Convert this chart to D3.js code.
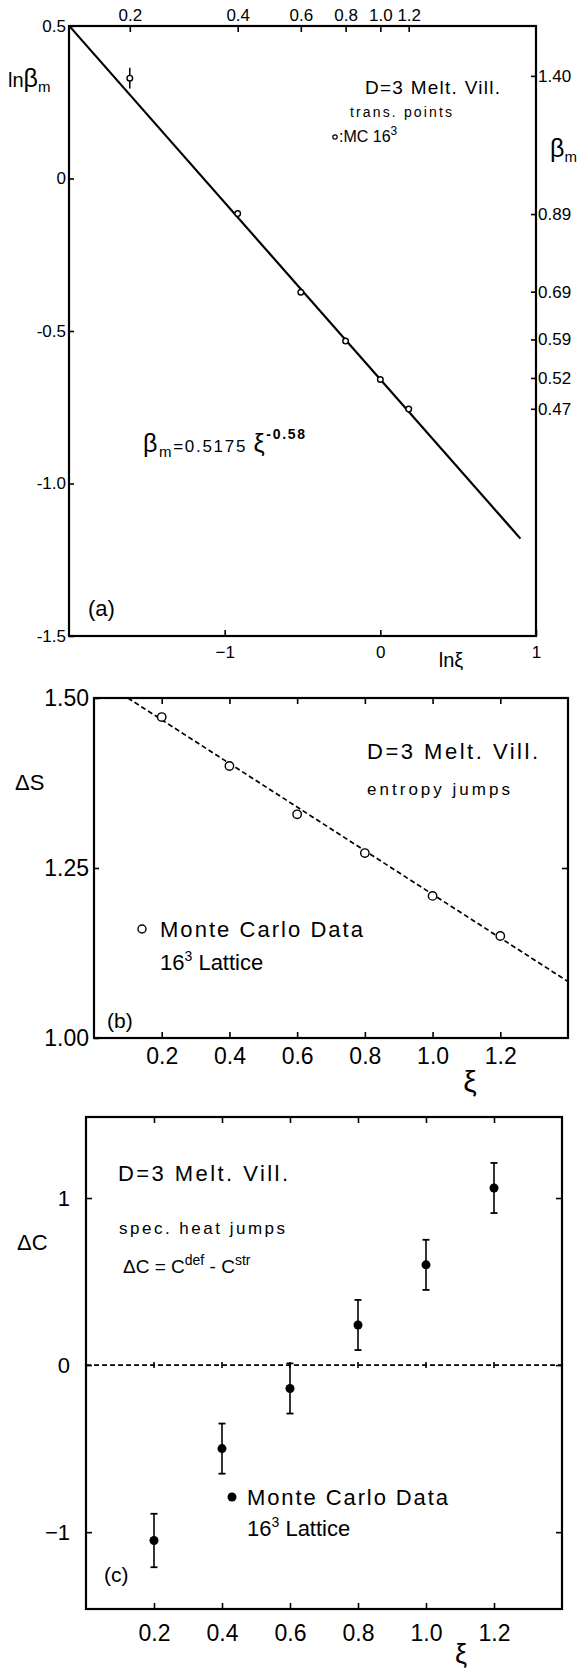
<!DOCTYPE html>
<html><head><meta charset="utf-8">
<script src="https://cdn.jsdelivr.net/npm/d3@7"></script>
<style>
body{margin:0;background:#fff;}
svg{display:block;}
</style></head><body>
<script>
// ---- (a) transition points: ln(beta_m) against ln(xi) ----
const xiValues = [0.2, 0.4, 0.6, 0.8, 1.0, 1.2];
const lnBetaM = [0.329, -0.115, -0.373, -0.533, -0.659, -0.756];
const lnBetaErr = [0.034, 0.012, 0, 0, 0, 0];
const fitCoef = 0.5175, fitExp = -0.58;          // beta_m = 0.5175 xi^-0.58
const fitLnXiRange = [-2, 0.9];
const lnBetaTicks = [0.5, 0, -0.5, -1.0, -1.5];
const lnBetaTickLabels = ["0.5", "0", "-0.5", "-1.0", "-1.5"];
const lnXiTicks = [-1, 0, 1];
const betaTicks = [1.40, 0.89, 0.69, 0.59, 0.52, 0.47];
const betaTickLabels = ["1.40", "0.89", "0.69", "0.59", "0.52", "0.47"];
const xiTickLabels = ["0.2", "0.4", "0.6", "0.8", "1.0", "1.2"];

// ---- (b) entropy jumps ----
const entropyJump = [1.472, 1.400, 1.329, 1.272, 1.209, 1.150];
const entropyFitXi = [0.1, 1.4];
const entropyFitDS = [1.5, 1.083];
const dsTicks = [1.00, 1.25, 1.50];

// ---- (c) specific heat jumps ----
const heatJump = [-1.05, -0.50, -0.14, 0.24, 0.60, 1.06];
const heatErr = [0.16, 0.15, 0.15, 0.15, 0.15, 0.15];
const dcTicks = [-1, 0, 1];

const FONT = '"Liberation Sans", Arial, Helvetica, sans-serif';
const W = 579, H = 1672;

const svg = d3.select("body").append("svg")
  .attr("width", W).attr("height", H)
  .attr("font-family", FONT);

function styleAxis(g, ax, size) {
  g.call(ax);
  g.select(".domain").remove();
  g.attr("font-family", FONT).attr("font-size", size);
  g.selectAll(".tick line").attr("stroke", "#000").attr("stroke-width", 1.6);
  g.selectAll(".tick text").attr("fill", "#000");
  return g;
}

// text made of runs; each run: t, s (size), sh (shift up from baseline), w (weight)
function rich(g, x, y, parts, opts = {}) {
  const t = g.append("text").attr("x", x).attr("y", y).attr("fill", "#000")
    .attr("text-anchor", opts.anchor || "start");
  if (opts.len) t.attr("textLength", opts.len).attr("lengthAdjust", "spacing");
  let prev = 0;
  parts.forEach(p => {
    const sh = p.sh || 0;
    const ts = t.append("tspan").text(p.t).attr("font-size", p.s);
    if (sh !== prev) ts.attr("dy", prev - sh);
    if (p.w) ts.attr("font-weight", p.w);
    prev = sh;
  });
  return t;
}

function frame(g, x, y) {
  g.append("rect")
    .attr("x", x.range()[0]).attr("y", Math.min(...y.range()))
    .attr("width", x.range()[1] - x.range()[0])
    .attr("height", Math.abs(y.range()[1] - y.range()[0]))
    .attr("fill", "none").attr("stroke", "#000").attr("stroke-width", 2.2);
}

// ================= panel (a) =================
{
  const g = svg.append("g");
  const x = d3.scaleLinear().domain([-2, 1]).range([69, 536]);
  const y = d3.scaleLinear().domain([0.5, -1.5]).range([26, 636]);

  styleAxis(g.append("g").attr("transform", `translate(${x.range()[0]},0)`),
    d3.axisLeft(y).tickValues(lnBetaTicks)
      .tickFormat((d, i) => lnBetaTickLabels[i]).tickSize(-5).tickPadding(3), 17);
  styleAxis(g.append("g").attr("transform", `translate(${x.range()[1]},0)`),
    d3.axisRight(y).tickValues(betaTicks.map(Math.log))
      .tickFormat((d, i) => betaTickLabels[i]).tickSize(-5).tickPadding(2), 17);
  styleAxis(g.append("g").attr("transform", `translate(0,${y.range()[0]})`),
    d3.axisTop(x).tickValues(xiValues.map(Math.log))
      .tickFormat((d, i) => xiTickLabels[i]).tickSize(-6).tickPadding(5), 17);
  styleAxis(g.append("g").attr("transform", `translate(0,${y.range()[1]})`),
    d3.axisBottom(x).tickValues(lnXiTicks).tickFormat(d3.format("d"))
      .tickSize(-6).tickPadding(10), 17);

  frame(g, x, y);

  // fitted power law
  const fitPts = fitLnXiRange.map(lx => [lx, Math.log(fitCoef) + fitExp * lx]);
  g.append("path").attr("d", d3.line().x(d => x(d[0])).y(d => y(d[1]))(fitPts))
    .attr("fill", "none").attr("stroke", "#000").attr("stroke-width", 2.2);

  const pts = xiValues.map((v, i) => ({ lx: Math.log(v), ly: lnBetaM[i], e: lnBetaErr[i] }));
  g.selectAll("line.err").data(pts.filter(d => d.e > 0)).join("line")
    .attr("x1", d => x(d.lx)).attr("x2", d => x(d.lx))
    .attr("y1", d => y(d.ly + d.e)).attr("y2", d => y(d.ly - d.e))
    .attr("stroke", "#000").attr("stroke-width", 1.5);
  g.selectAll("circle.pt").data(pts).join("circle")
    .attr("cx", d => x(d.lx)).attr("cy", d => y(d.ly)).attr("r", 2.8)
    .attr("fill", "#fff").attr("stroke", "#000").attr("stroke-width", 1.4);

  rich(g, 8, 87, [{ t: "ln", s: 20 }, { t: "β", s: 25 }, { t: "m", s: 15, sh: -5 }]);
  rich(g, 550, 157, [{ t: "β", s: 25 }, { t: "m", s: 15, sh: -5 }]);
  rich(g, 365, 94, [{ t: "D=3 Melt. Vill.", s: 19 }], { len: 135 });
  rich(g, 350, 117, [{ t: "trans. points", s: 14 }], { len: 102 });
  g.append("circle").attr("cx", 335).attr("cy", 137).attr("r", 2.2)
    .attr("fill", "#fff").attr("stroke", "#000").attr("stroke-width", 1.2);
  rich(g, 339, 142, [{ t: ":MC 16", s: 16 }, { t: "3", s: 12, sh: 7 }]);
  rich(g, 143, 452, [
    { t: "β", s: 25 }, { t: "m", s: 15, sh: -5 }, { t: "=0.5175 ", s: 17 },
    { t: "ξ", s: 25 }, { t: "-0.58", s: 14, sh: 13, w: "bold" }
  ], { len: 162 });
  rich(g, 88, 616, [{ t: "(a)", s: 22 }]);
  rich(g, 451, 667, [{ t: "lnξ", s: 20 }], { anchor: "middle" });
}

// ================= panel (b) =================
{
  const g = svg.append("g");
  const x = d3.scaleLinear().domain([0, 1.4]).range([94, 568]);
  const y = d3.scaleLinear().domain([1.0, 1.5]).range([1038, 698]);

  styleAxis(g.append("g").attr("transform", `translate(${x.range()[0]},0)`),
    d3.axisLeft(y).tickValues(dsTicks).tickFormat(d3.format(".2f"))
      .tickSize(-5).tickPadding(5), 23);
  styleAxis(g.append("g").attr("transform", `translate(${x.range()[1]},0)`),
    d3.axisRight(y).tickValues([1.25]).tickFormat("").tickSize(-6), 12);
  styleAxis(g.append("g").attr("transform", `translate(0,${y.range()[1]})`),
    d3.axisTop(x).tickValues(xiValues).tickFormat("").tickSize(-6), 12);
  styleAxis(g.append("g").attr("transform", `translate(0,${y.range()[0]})`),
    d3.axisBottom(x).tickValues(xiValues).tickFormat((d, i) => xiTickLabels[i])
      .tickSize(-6).tickPadding(10), 23);

  frame(g, x, y);

  const fit = entropyFitXi.map((v, i) => [v, entropyFitDS[i]]);
  g.append("path").attr("d", d3.line().x(d => x(d[0])).y(d => y(d[1]))(fit))
    .attr("fill", "none").attr("stroke", "#000").attr("stroke-width", 1.7)
    .attr("stroke-dasharray", "5,3");

  g.selectAll("circle.pt").data(xiValues).join("circle")
    .attr("cx", d => x(d)).attr("cy", (d, i) => y(entropyJump[i])).attr("r", 4.2)
    .attr("fill", "#fff").attr("stroke", "#000").attr("stroke-width", 1.4);

  rich(g, 15, 790, [{ t: "ΔS", s: 22 }]);
  rich(g, 367, 759, [{ t: "D=3 Melt. Vill.", s: 22 }], { len: 171 });
  rich(g, 367, 795, [{ t: "entropy jumps", s: 17 }], { len: 143 });
  g.append("circle").attr("cx", 142).attr("cy", 929).attr("r", 4)
    .attr("fill", "#fff").attr("stroke", "#000").attr("stroke-width", 1.4);
  rich(g, 160, 937, [{ t: "Monte Carlo Data", s: 22 }], { len: 203 });
  rich(g, 160, 970, [{ t: "16", s: 22 }, { t: "3", s: 14, sh: 9 }, { t: " Lattice", s: 22 }]);
  rich(g, 107, 1028, [{ t: "(b)", s: 21 }]);
  rich(g, 470, 1092, [{ t: "ξ", s: 30 }], { anchor: "middle" });
}

// ================= panel (c) =================
{
  const g = svg.append("g");
  const x = d3.scaleLinear().domain([0, 1.4]).range([86, 562]);
  const y = d3.scaleLinear().domain([-1.46, 1.485]).range([1609, 1117]);

  styleAxis(g.append("g").attr("transform", `translate(${x.range()[0]},0)`),
    d3.axisLeft(y).tickValues(dcTicks).tickFormat(d3.format("d"))
      .tickSize(-6).tickPadding(16), 22);
  styleAxis(g.append("g").attr("transform", `translate(${x.range()[1]},0)`),
    d3.axisRight(y).tickValues(dcTicks).tickFormat("").tickSize(-6), 12);
  styleAxis(g.append("g").attr("transform", `translate(0,${y.range()[1]})`),
    d3.axisTop(x).tickValues(xiValues).tickFormat("").tickSize(-6), 12);
  styleAxis(g.append("g").attr("transform", `translate(0,${y.range()[0]})`),
    d3.axisBottom(x).tickValues(xiValues).tickFormat((d, i) => xiTickLabels[i])
      .tickSize(-6).tickPadding(16), 23);

  frame(g, x, y);

  // dashed zero reference with small tick marks
  g.append("line").attr("x1", x.range()[0]).attr("x2", x.range()[1])
    .attr("y1", y(0)).attr("y2", y(0))
    .attr("stroke", "#000").attr("stroke-width", 1.6).attr("stroke-dasharray", "5,3");
  g.selectAll("line.zt").data(xiValues).join("line")
    .attr("x1", d => x(d)).attr("x2", d => x(d))
    .attr("y1", y(0) - 3).attr("y2", y(0) + 3)
    .attr("stroke", "#000").attr("stroke-width", 1.6);

  const pts = xiValues.map((v, i) => ({ xi: v, dc: heatJump[i], e: heatErr[i] }));
  const eb = g.selectAll("g.eb").data(pts).join("g");
  eb.append("line").attr("x1", d => x(d.xi)).attr("x2", d => x(d.xi))
    .attr("y1", d => y(d.dc + d.e)).attr("y2", d => y(d.dc - d.e))
    .attr("stroke", "#000").attr("stroke-width", 1.6);
  [1, -1].forEach(s => {
    eb.append("line").attr("x1", d => x(d.xi) - 3.5).attr("x2", d => x(d.xi) + 3.5)
      .attr("y1", d => y(d.dc + s * d.e)).attr("y2", d => y(d.dc + s * d.e))
      .attr("stroke", "#000").attr("stroke-width", 1.8);
  });
  eb.append("circle").attr("cx", d => x(d.xi)).attr("cy", d => y(d.dc)).attr("r", 4.5)
    .attr("fill", "#000");

  rich(g, 17, 1250, [{ t: "ΔC", s: 22 }]);
  rich(g, 118, 1181, [{ t: "D=3 Melt. Vill.", s: 22 }], { len: 170 });
  rich(g, 119, 1234, [{ t: "spec. heat jumps", s: 17 }], { len: 166 });
  rich(g, 123, 1273, [
    { t: "ΔC = C", s: 19 }, { t: "def", s: 14, sh: 8 },
    { t: " - C", s: 19 }, { t: "str", s: 14, sh: 8 }
  ]);
  g.append("circle").attr("cx", 232).attr("cy", 1497).attr("r", 4.5).attr("fill", "#000");
  rich(g, 247, 1505, [{ t: "Monte Carlo Data", s: 22 }], { len: 201 });
  rich(g, 247, 1536, [{ t: "16", s: 22 }, { t: "3", s: 14, sh: 9 }, { t: " Lattice", s: 22 }]);
  rich(g, 104, 1582, [{ t: "(c)", s: 21 }]);
  rich(g, 461, 1663, [{ t: "ξ", s: 27 }], { anchor: "middle" });
}
</script>
</body></html>
